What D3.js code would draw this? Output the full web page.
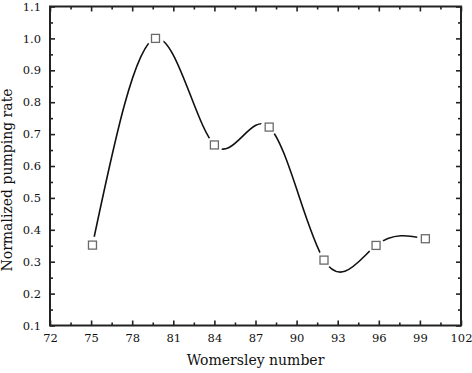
<!DOCTYPE html>
<html>
<head>
<meta charset="utf-8">
<script src="https://cdnjs.cloudflare.com/ajax/libs/d3/7.8.5/d3.min.js"></script>
<style>
  body { margin: 0; background: #fff; }
  svg { display: block; }
  svg text { font-family: "DejaVu Serif", serif !important; fill: #111; }
</style>
</head>
<body>
<div id="chart"></div>
<script>
// values
const womersley = [75.1, 79.7, 84.0, 88.0, 92.0, 95.8, 99.4]
const pumpRate = [0.352, 1.0, 0.666, 0.722, 0.305, 0.351, 0.372]
const xTicks = [72, 75, 78, 81, 84, 87, 90, 93, 96, 99, 102]
const yTicks = [0.1, 0.2, 0.3, 0.4, 0.5, 0.6, 0.7, 0.8, 0.9, 1.0, 1.1]

const W = 472, H = 373
const m = { top: 6.5, right: 11, bottom: 47.5, left: 50 }

const svg = d3.select("#chart").append("svg")
  .attr("width", W).attr("height", H)

const x = d3.scaleLinear().domain([72, 102]).range([m.left, W - m.right])
const y = d3.scaleLinear().domain([0.1, 1.1]).range([H - m.bottom, m.top])

const xMinor = d3.range(73.5, 102, 3)
const yMinor = d3.range(0.15, 1.1, 0.1)

const g = svg.append("g")

// bottom + left with labels, top + right mirrored ticks only
g.append("g").attr("transform", `translate(0,${y(0.1)})`)
  .call(d3.axisBottom(x).tickValues(xTicks).tickFormat(d3.format("d")).tickSizeInner(-5).tickSizeOuter(0).tickPadding(8))
g.append("g").attr("transform", `translate(0,${y(0.1)})`)
  .call(d3.axisBottom(x).tickValues(xMinor).tickFormat("").tickSizeInner(-3).tickSizeOuter(0))
g.append("g").attr("transform", `translate(0,${y(1.1)})`)
  .call(d3.axisTop(x).tickValues(xTicks).tickFormat("").tickSizeInner(-5).tickSizeOuter(0))
g.append("g").attr("transform", `translate(0,${y(1.1)})`)
  .call(d3.axisTop(x).tickValues(xMinor).tickFormat("").tickSizeInner(-3).tickSizeOuter(0))

g.append("g").attr("transform", `translate(${x(72)},0)`)
  .call(d3.axisLeft(y).tickValues(yTicks).tickFormat(d3.format(".1f")).tickSizeInner(-5).tickSizeOuter(0).tickPadding(9))
g.append("g").attr("transform", `translate(${x(72)},0)`)
  .call(d3.axisLeft(y).tickValues(yMinor).tickFormat("").tickSizeInner(-3).tickSizeOuter(0))
g.append("g").attr("transform", `translate(${x(102)},0)`)
  .call(d3.axisRight(y).tickValues(yTicks).tickFormat("").tickSizeInner(-5).tickSizeOuter(0))
g.append("g").attr("transform", `translate(${x(102)},0)`)
  .call(d3.axisRight(y).tickValues(yMinor).tickFormat("").tickSizeInner(-3).tickSizeOuter(0))

g.selectAll(".domain").remove()
g.selectAll(".tick line").attr("stroke", "#222").attr("stroke-width", 1.6)
g.selectAll(".tick text").attr("font-size", 11.5).attr("font-family", "DejaVu Serif")

// frame
svg.append("rect")
  .attr("x", x(72)).attr("y", y(1.1))
  .attr("width", x(102) - x(72)).attr("height", y(0.1) - y(1.1))
  .attr("fill", "none").attr("stroke", "#222").attr("stroke-width", 2)

const pts = womersley.map((d, i) => [d, pumpRate[i]])

// spline through the points
svg.append("path")
  .datum(pts)
  .attr("d", d3.line().x(d => x(d[0])).y(d => y(d[1])).curve(d3.curveNatural))
  .attr("fill", "none").attr("stroke", "#111").attr("stroke-width", 1.6)

// white gap round each symbol
svg.append("g").selectAll("circle").data(pts).join("circle")
  .attr("cx", d => x(d[0])).attr("cy", d => y(d[1])).attr("r", 8.5)
  .attr("fill", "#fff")

svg.append("g").selectAll("rect").data(pts).join("rect")
  .attr("x", d => x(d[0]) - 4).attr("y", d => y(d[1]) - 4)
  .attr("width", 8).attr("height", 8)
  .attr("fill", "#fff").attr("stroke", "#6a6a6a").attr("stroke-width", 1.3)

svg.append("text")
  .attr("x", (x(72) + x(102)) / 2).attr("y", 365)
  .attr("text-anchor", "middle").attr("font-size", 14)
  .text("Womersley number")

svg.append("text")
  .attr("transform", `translate(12,180) rotate(-90)`)
  .attr("text-anchor", "middle").attr("font-size", 14)
  .text("Normalized pumping rate")
</script>
</body>
</html>
